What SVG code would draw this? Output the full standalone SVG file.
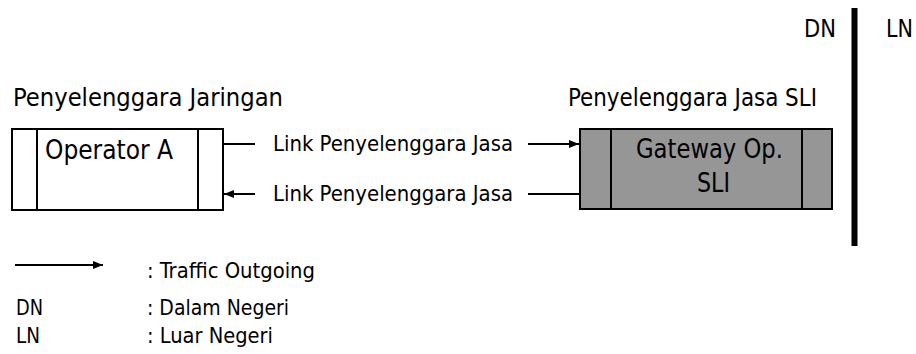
<svg xmlns="http://www.w3.org/2000/svg" width="916" height="354" viewBox="0 0 916 354">
<defs>
<style>
text{font-family:"DejaVu Sans Condensed","DejaVu Sans","Liberation Sans",sans-serif;font-stretch:condensed;fill:#000}
.big{font-size:25px}
.box-t{font-size:26px}
.sm{font-size:22px}
.lg{font-size:21px}
.ln{stroke:#000;stroke-width:2;fill:none}
.box{stroke:#000;stroke-width:2}
</style>
<marker id="ah" viewBox="0 0 10 10" refX="10" refY="5" markerWidth="12" markerHeight="10" markerUnits="userSpaceOnUse" orient="auto">
<path d="M0,1 L10,5 L0,9 Z" fill="#000"/>
</marker>
</defs>
<rect width="916" height="354" fill="#fff"/>
<text class="big" x="13" y="106" textLength="270" lengthAdjust="spacingAndGlyphs">Penyelenggara Jaringan</text>
<text class="big" x="568" y="106" textLength="249" lengthAdjust="spacingAndGlyphs">Penyelenggara Jasa SLI</text>
<text class="big" x="804" y="37" textLength="32" lengthAdjust="spacingAndGlyphs">DN</text>
<text class="big" x="886" y="37" textLength="27" lengthAdjust="spacingAndGlyphs">LN</text>
<line x1="854.5" y1="8" x2="854.5" y2="246" stroke="#000" stroke-width="6"/>
<g id="operatorA">
<rect class="box" x="12" y="129" width="211" height="81" fill="#fff"/>
<line class="box" x1="37" y1="129" x2="37" y2="210"/>
<line class="box" x1="198" y1="129" x2="198" y2="210"/>
<text class="box-t" x="45" y="159" textLength="128" lengthAdjust="spacingAndGlyphs">Operator A</text>
</g>
<g id="gateway">
<rect class="box" x="580" y="129" width="252" height="80" fill="#969696"/>
<line class="box" x1="611" y1="129" x2="611" y2="209"/>
<line class="box" x1="802" y1="129" x2="802" y2="209"/>
<text class="box-t" x="636" y="158" textLength="147" lengthAdjust="spacingAndGlyphs">Gateway Op.</text>
<text class="box-t" x="697" y="192" textLength="33" lengthAdjust="spacingAndGlyphs">SLI</text>
</g>
<g id="connectors">
<line class="ln" x1="223" y1="144" x2="255" y2="144"/>
<line class="ln" x1="528" y1="144" x2="579" y2="144" marker-end="url(#ah)"/>
<text class="sm" x="273" y="151" textLength="240" lengthAdjust="spacingAndGlyphs">Link Penyelenggara Jasa</text>
<line class="ln" x1="255" y1="194" x2="224" y2="194" marker-end="url(#ah)"/>
<line class="ln" x1="528" y1="194" x2="580" y2="194"/>
<text class="sm" x="273" y="201" textLength="240" lengthAdjust="spacingAndGlyphs">Link Penyelenggara Jasa</text>
</g>
<g id="legend">
<line class="ln" x1="15" y1="265" x2="103" y2="265" marker-end="url(#ah)"/>
<text class="lg" x="147" y="278" textLength="168" lengthAdjust="spacingAndGlyphs">: Traffic Outgoing</text>
<text class="lg" x="16" y="315" textLength="27" lengthAdjust="spacingAndGlyphs">DN</text>
<text class="lg" x="147" y="315" textLength="142" lengthAdjust="spacingAndGlyphs">: Dalam Negeri</text>
<text class="lg" x="16" y="343" textLength="24" lengthAdjust="spacingAndGlyphs">LN</text>
<text class="lg" x="147" y="343" textLength="126" lengthAdjust="spacingAndGlyphs">: Luar Negeri</text>
</g>
</svg>
